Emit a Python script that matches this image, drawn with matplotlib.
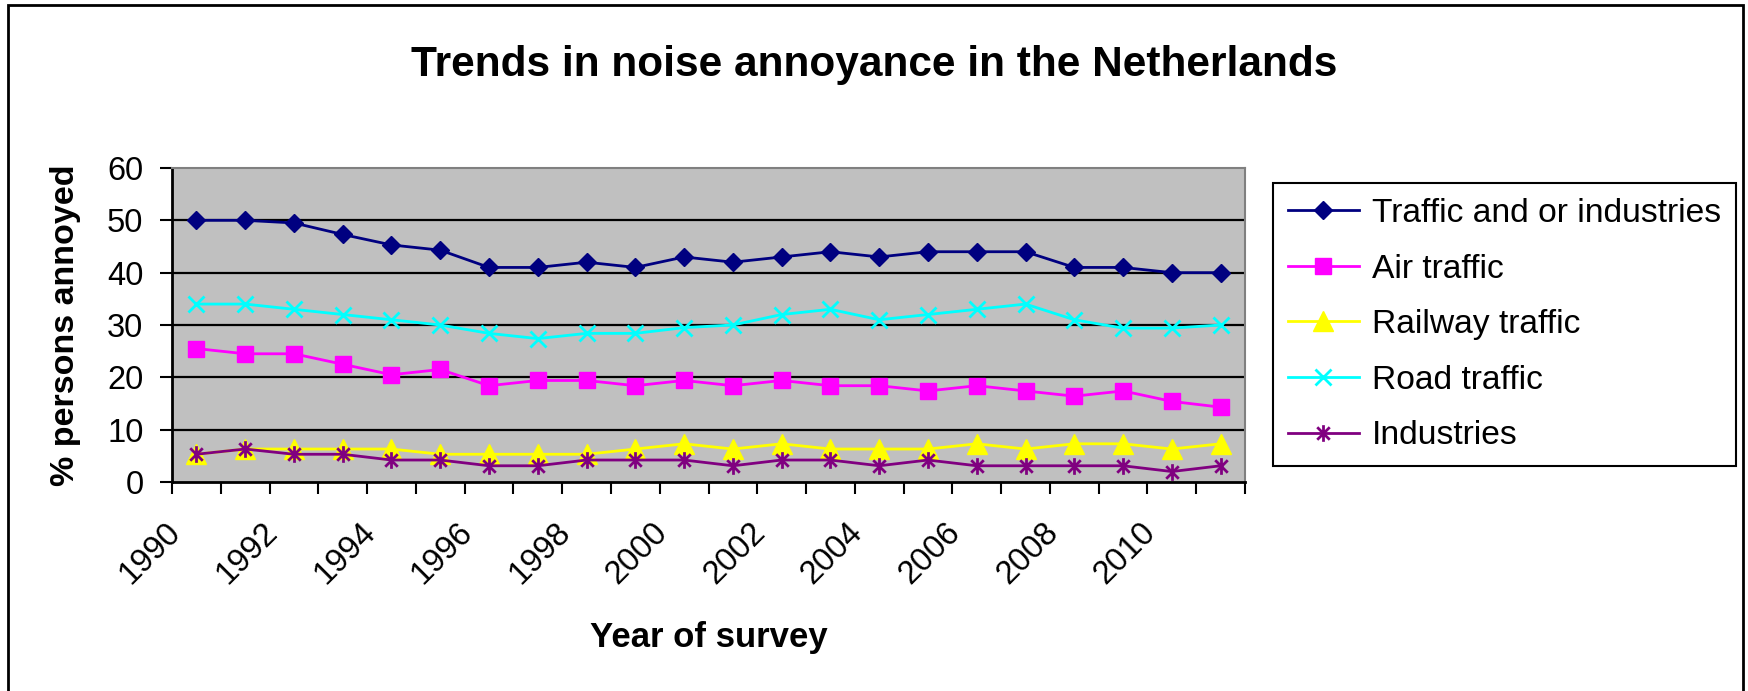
import numpy as np
import matplotlib
matplotlib.use("Agg")
import matplotlib.pyplot as plt
import matplotlib.path as mpath
import matplotlib.transforms as mtransforms
from matplotlib.patches import Rectangle

plt.rcParams['font.family'] = ['Liberation Sans', 'DejaVu Sans']

# Données
years = list(range(1990, 2012))
traffic_industries = [50, 50, 49.5, 47.3, 45.3, 44.3, 41, 41, 42, 41, 43, 42, 43, 44, 43, 44, 44, 44, 41, 41, 40, 40]
air_traffic = [25.5, 24.5, 24.5, 22.5, 20.5, 21.5, 18.4, 19.4, 19.4, 18.4, 19.4, 18.4, 19.4, 18.4, 18.4, 17.4, 18.4, 17.4, 16.4, 17.4, 15.4, 14.3]
railway_traffic = [5.3, 6.3, 6.3, 6.3, 6.3, 5.3, 5.3, 5.3, 5.3, 6.3, 7.3, 6.3, 7.3, 6.3, 6.3, 6.3, 7.3, 6.3, 7.3, 7.3, 6.3, 7.3]
road_traffic = [34, 34, 33, 32, 31, 30, 28.4, 27.4, 28.4, 28.4, 29.5, 30, 32, 33, 31, 32, 33, 34, 31, 29.4, 29.4, 30]
industries = [5.3, 6.3, 5.3, 5.3, 4.2, 4.2, 3.1, 3.1, 4.2, 4.2, 4.2, 3.1, 4.2, 4.2, 3.1, 4.2, 3.1, 3.1, 3.1, 3.1, 2.0, 3.1]
y_ticks = [0, 10, 20, 30, 40, 50, 60]

# Marqueur "astérisque" façon Excel
asterisk = mpath.Path(
    [(0, -1), (0, 1), (-0.75, -0.75), (0.75, 0.75), (-0.75, 0.75), (0.75, -0.75)],
    [mpath.Path.MOVETO, mpath.Path.LINETO] * 3)

W, H = 1748, 691
fig = plt.figure(figsize=(W / 100, H / 100), dpi=100)
ax = fig.add_axes([172 / W, 1 - 482 / H, (1245 - 172) / W, (482 - 168) / H])
ax.set_facecolor('#C0C0C0')

x = np.arange(len(years))
ax.plot(x, traffic_industries, color='#000080', lw=2, marker='D', ms=9.5, label='Traffic and or industries')
ax.plot(x, air_traffic, color='#FF00FF', lw=2, marker='s', ms=12, label='Air traffic')
ax.plot(x, railway_traffic, color='#FFFF00', lw=2, marker='^', ms=14, label='Railway traffic')
ax.plot(x, road_traffic, color='#00FFFF', lw=2, marker='x', ms=11, mew=2, label='Road traffic')
ax.plot(x, industries, color='#800080', lw=2, marker=asterisk, ms=12, mew=2, label='Industries')

# Axes
ax.set_xlim(-0.5, len(years) - 0.5)
ax.set_ylim(0, 60)
ax.set_yticks(y_ticks)
ax.set_yticklabels([str(v) for v in y_ticks])
ax.yaxis.grid(True, color='black', lw=1.6)
ax.set_axisbelow(True)
ax.get_ygridlines()[-1].set_visible(False)
ax.get_ygridlines()[0].set_visible(False)

ax.set_xticks(np.arange(-0.5, len(years), 1))
ax.set_xticklabels([])
ax.set_xticks(x[::2][:11], minor=True)
ax.set_xticklabels([str(y) for y in years[::2][:11]], minor=True,
                   rotation=45, ha='right', va='center', rotation_mode='anchor')
ax.tick_params(axis='x', which='minor', length=0, pad=33, labelsize=23.5)
ax.tick_params(axis='both', which='major', direction='out', length=8.6, width=1.5, labelsize=23.5)
ax.tick_params(axis='y', pad=12)
offset = mtransforms.ScaledTranslation(-0.21, 0, fig.dpi_scale_trans)
for lab in ax.get_xticklabels(minor=True):
    lab.set_transform(lab.get_transform() + offset)

for side in ['left', 'bottom']:
    ax.spines[side].set_color('black')
    ax.spines[side].set_linewidth(2)
for side in ['top', 'right']:
    ax.spines[side].set_color('#808080')
    ax.spines[side].set_linewidth(1.5)

ax.set_xlabel('Year of survey', fontsize=25, fontweight='bold', va='center')
ax.xaxis.set_label_coords(0.5, (482 - 638) / 314)
ax.set_ylabel('% persons annoyed', fontsize=24.5, fontweight='bold', va='center')
ax.yaxis.set_label_coords((66 - 172) / 1073, 0.5)

fig.suptitle('Trends in noise annoyance in the Netherlands', fontsize=30.5, fontweight='bold',
             x=0.5, y=1 - 65 / H, va='center')

leg = ax.legend(loc='upper left', bbox_to_anchor=(1273 / W, 1 - 183 / H), bbox_transform=fig.transFigure,
                borderaxespad=0, fontsize=24.2, numpoints=1, fancybox=False, edgecolor='black',
                framealpha=1, borderpad=0.45, labelspacing=0.73, handlelength=2.1, handletextpad=0.4)
leg.get_frame().set_linewidth(1.5)

# Cadre autour de la figure
fig.patches.append(Rectangle((8 / W, -0.05), (1743 - 8) / W, 1.05 - 5 / H, transform=fig.transFigure,
                             fill=False, ec='black', lw=2))

fig.savefig('out.png', dpi=100)
